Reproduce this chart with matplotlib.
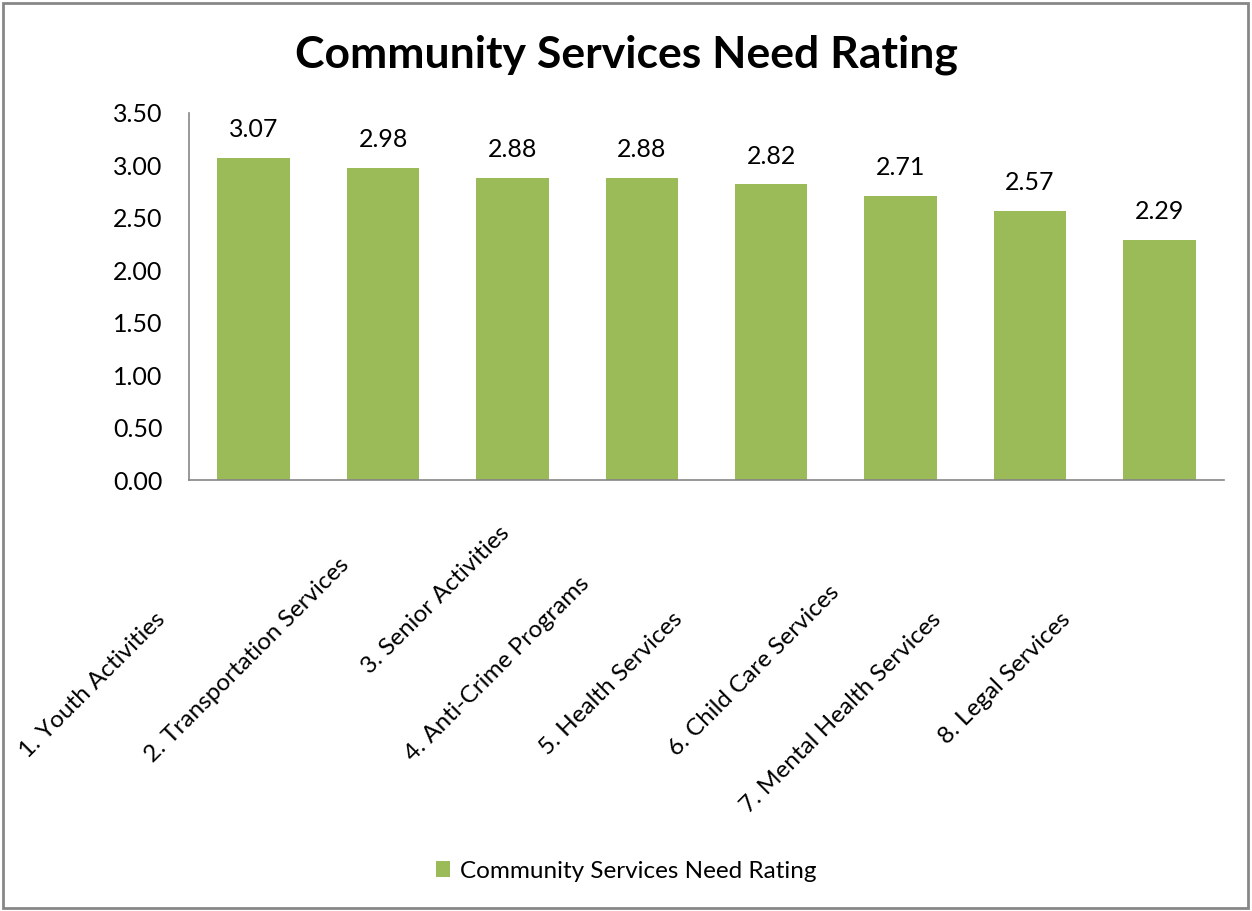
import matplotlib.pyplot as plt
from matplotlib.patches import Rectangle

# data
categories = ['1. Youth Activities', '2. Transportation Services', '3. Senior Activities',
              '4. Anti-Crime Programs', '5. Health Services', '6. Child Care Services',
              '7. Mental Health Services', '8. Legal Services']
ratings = [3.07, 2.98, 2.88, 2.88, 2.82, 2.71, 2.57, 2.29]
series_name = 'Community Services Need Rating'
yticks = [0.0, 0.5, 1.0, 1.5, 2.0, 2.5, 3.0, 3.5]

# how far each rotated label is pushed along its own direction (px), as in the original
label_shift = [0, 55, 86, 36, 0, 27, 0, 0]

plt.rcParams['font.family'] = ['Lato', 'DejaVu Sans']
green = '#9BBB59'
gray = '#868686'

fig = plt.figure(figsize=(12.52, 9.11), dpi=100)
ax = fig.add_axes([189/1252, 1 - 480/911, (1224 - 189)/1252, (480 - 113)/911])

x = list(range(len(categories)))
bars = ax.bar(x, ratings, width=0.56, color=green, label=series_name, zorder=2)

ax.set_ylim(0, 3.5)
ax.set_xlim(-0.5, len(categories) - 0.5)
ax.set_yticks(yticks)
ax.set_yticklabels([f'{v:.2f}' for v in yticks], fontsize=18)
ax.tick_params(axis='y', length=0, pad=19)
ax.set_xticks([])

for s in ['top', 'right']:
    ax.spines[s].set_visible(False)
for s in ['left', 'bottom']:
    ax.spines[s].set_color(gray)
    ax.spines[s].set_linewidth(1.2)

# value labels
for xi, v in zip(x, ratings):
    ax.annotate(f'{v:.2f}', xy=(xi, v), xytext=(0, 12), textcoords='offset points',
                ha='center', va='bottom', fontsize=18)

# rotated category labels
px = 0.72
for xi, lab, sh in zip(x, categories, label_shift):
    dx = (-92 + sh) * px
    dy = -(136 - sh) * px
    ax.annotate(lab, xy=(xi, 0), xycoords=('data', 'axes fraction'),
                xytext=(dx, dy), textcoords='offset points',
                rotation=45, rotation_mode='anchor', ha='right', va='center',
                fontsize=17.5, annotation_clip=False)

fig.text(0.5, 1 - 55/911, 'Community Services Need Rating', ha='center', va='center',
         fontsize=32, fontweight='bold')

fig.legend(handles=[bars], labels=[series_name], loc='center',
           bbox_to_anchor=(0.5, 1 - 871/911), frameon=False, fontsize=17.5,
           handlelength=0.6, handleheight=0.6, handletextpad=0.4)

fig.patches.append(Rectangle((3/1252, 3/911), 1245/1252, 905/911, transform=fig.transFigure,
                             fill=False, edgecolor='#878787', linewidth=2))

fig.savefig('out.png', dpi=100)
